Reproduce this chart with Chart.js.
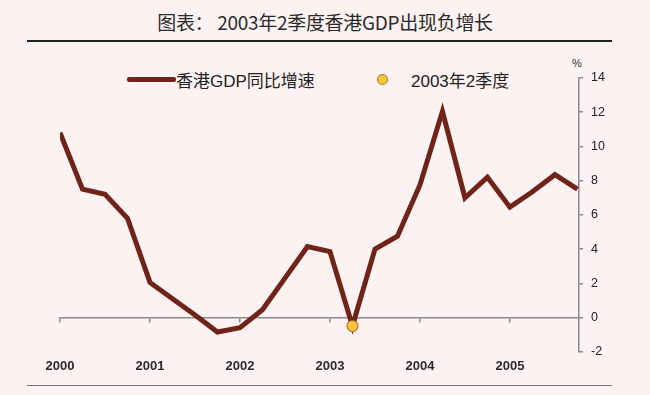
<!DOCTYPE html>
<html>
<head>
<meta charset="utf-8">
<script src="https://cdn.jsdelivr.net/npm/chart.js@4"></script>
<style>
	body { margin: 0; background: #fcf2f1; }
	#wrap { position: relative; width: 650px; height: 395px; overflow: hidden; font-family: "Liberation Sans", "Noto Sans CJK SC", sans-serif; }
	#chart { position: absolute; left: 0; top: 0; }
	.title { position: absolute; left: 0; width: 650px; top: 8px; text-align: center; font: 19px "Noto Sans CJK SC", sans-serif; color: #2a2a2a; letter-spacing: -0.3px; }
	.rule { position: absolute; left: 27px; width: 585px; }
	.rule.top { top: 40px; border-top: 2px solid #222; }
	.rule.bottom { top: 385px; border-top: 1px solid #777; }
	.legend { position: absolute; top: 68px; height: 22px; display: flex; align-items: center; font: 17px "Liberation Sans", "Noto Sans CJK SC", sans-serif; color: #222; }
	.swatch-line { width: 49px; height: 5px; background: #702319; border-radius: 2px; }
	.swatch-dot { width: 9px; height: 9px; border-radius: 50%; background: #f6c63e; border: 1.5px solid #c46a1c; }
	.pct { position: absolute; left: 572px; top: 57px; font: 11px "Liberation Sans", sans-serif; color: #333; }
</style>
</head>
<body>
<div id="wrap">
	<div class="title">图表： 2003年2季度香港GDP出现负增长</div>
	<div class="rule top"></div>
	<div class="legend" style="left:127px"><span class="swatch-line"></span><span>香港GDP同比增速</span></div>
	<div class="legend" style="left:377px"><span class="swatch-dot"></span><span style="margin-left:23px">2003年2季度</span></div>
	<div class="pct">%</div>
	<canvas id="chart" width="650" height="395"></canvas>
	<div class="rule bottom"></div>
</div>
<script>
// Hong Kong real GDP, year-on-year growth (%), quarterly 2000Q1 - 2005Q4
const gdpGrowth = [10.8, 7.5, 7.2, 5.8, 2.05, 1.1, 0.15, -0.85,
	-0.6, 0.45, 2.3, 4.15, 3.85, -0.5, 4.0, 4.75,
	7.75, 12.05, 7.0, 8.2, 6.45, 7.35, 8.35, 7.5];
const yearLabels = ['2000', '2001', '2002', '2003', '2004', '2005'];
const yearTicks = [0, 4, 8, 12, 16, 20]; // quarter index where each year starts
const yTicks = [-2, 0, 2, 4, 6, 8, 10, 12, 14];
const highlightQuarter = 13; // 2003 Q2
const highlightValue = gdpGrowth[highlightQuarter];

const lineColor = '#702319';
const axisColor = '#8a8a8a';
const xMax = 23.07;

const ctx = document.getElementById('chart').getContext('2d');
new Chart(ctx, {
	type: 'line',
	data: {
		datasets: [{
			label: '香港GDP同比增速',
			data: gdpGrowth.map((v, i) => ({ x: i, y: v })),
			borderColor: lineColor,
			borderWidth: 5,
			borderJoinStyle: 'miter',
			pointRadius: 0,
			tension: 0,
			order: 2
		}, {
			label: '2003年2季度',
			data: [{ x: highlightQuarter, y: highlightValue }],
			showLine: false,
			pointRadius: 5.5,
			pointBackgroundColor: '#f6c63e',
			pointBorderColor: '#c46a1c',
			pointBorderWidth: 1.2,
			order: 1
		}]
	},
	options: {
		responsive: false,
		animation: false,
		layout: { padding: { left: 60, top: 78, right: 0, bottom: 0 } },
		plugins: {
			legend: { display: false },
			tooltip: { enabled: false }
		},
		scales: {
			x: {
				type: 'linear',
				position: 'bottom',
				min: 0,
				max: xMax,
				border: { display: false },
				grid: { display: false, drawTicks: false },
				afterBuildTicks: function (scale) {
					scale.ticks = yearTicks.map(v => ({ value: v }));
				},
				afterFit: function (scale) { scale.height = 43.3; },
				ticks: {
					padding: 7,
					maxRotation: 0,
					color: '#2a2a2a',
					font: { family: 'Liberation Sans', size: 13, weight: 'bold' },
					callback: function (value) {
						return yearLabels[yearTicks.indexOf(value)];
					}
				}
			},
			x2: {
				type: 'linear',
				axis: 'x',
				position: { y: 0 },
				min: 0,
				max: xMax,
				border: { display: true, color: axisColor, width: 1.5 },
				grid: { drawOnChartArea: false, drawTicks: true, tickLength: 4, color: axisColor, lineWidth: 1.5 },
				afterBuildTicks: function (scale) {
					scale.ticks = yearTicks.map(v => ({ value: v }));
				},
				ticks: { display: false }
			},
			y: {
				type: 'linear',
				position: 'right',
				min: -2,
				max: 14,
				border: { display: true, color: axisColor, width: 1.5 },
				grid: { drawOnChartArea: false, tickLength: 4, color: axisColor, lineWidth: 1.5 },
				afterBuildTicks: function (scale) {
					scale.ticks = yTicks.map(v => ({ value: v }));
				},
				afterFit: function (scale) { scale.width = 71; },
				ticks: {
					padding: 8,
					color: '#222',
					font: { family: 'Liberation Sans', size: 12.5 }
				}
			}
		}
	}
});
</script>
</body>
</html>
